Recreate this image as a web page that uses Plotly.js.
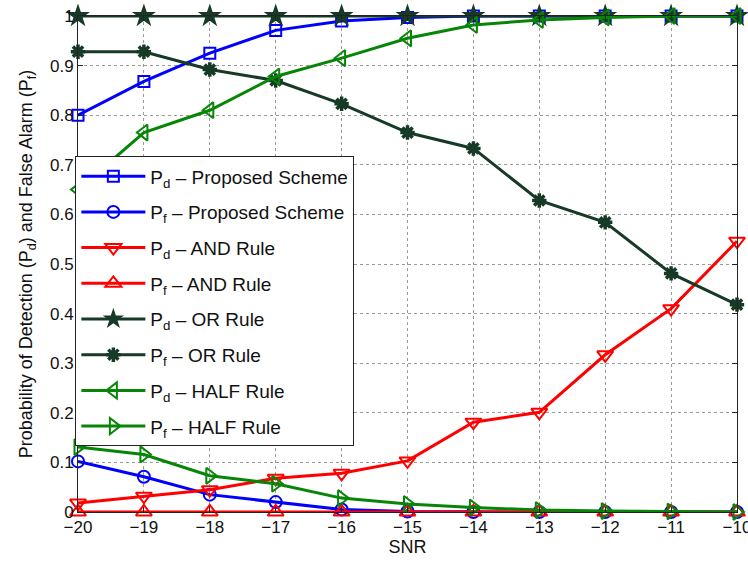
<!DOCTYPE html>
<html>
<head>
<meta charset="utf-8">
<script src="https://cdn.plot.ly/plotly-3.0.1.min.js"></script>
<style>html,body{margin:0;padding:0;background:#fff;}#chart{width:748px;height:562px;}</style>
</head>
<body>
<div id="chart"></div>
<script>
const snr = [-20, -19, -18, -17, -16, -15, -14, -13, -12, -11, -10];
const pdProposed = [0.800, 0.868, 0.925, 0.971, 0.990, 0.997, 1.000, 1.000, 1.000, 1.000, 1.000];
const pfProposed = [0.102, 0.071, 0.035, 0.020, 0.005, 0.001, 0.000, 0.000, 0.000, 0.000, 0.000];
const pdAnd = [0.018, 0.032, 0.045, 0.068, 0.078, 0.103, 0.181, 0.201, 0.317, 0.410, 0.546];
const pfAnd = [0, 0, 0, 0, 0, 0, 0, 0, 0, 0, 0];
const pdOr = [1, 1, 1, 1, 1, 1, 1, 1, 1, 1, 1];
const pfOr = [0.928, 0.928, 0.892, 0.870, 0.823, 0.765, 0.733, 0.628, 0.584, 0.481, 0.418];
const pdHalf = [0.650, 0.765, 0.810, 0.878, 0.915, 0.955, 0.982, 0.992, 0.997, 1.000, 1.000];
const pfHalf = [0.131, 0.116, 0.073, 0.057, 0.028, 0.016, 0.009, 0.004, 0.002, 0.001, 0.000];
const yTicks = [0, 0.1, 0.2, 0.3, 0.4, 0.5, 0.6, 0.7, 0.8, 0.9, 1];
const yTickText = ['0', '0.1', '0.2', '0.3', '0.4', '0.5', '0.6', '0.7', '0.8', '0.9', '1'];
const names = [
  'P<sub>d</sub> – Proposed Scheme',
  'P<sub>f</sub> – Proposed Scheme',
  'P<sub>d</sub> – AND Rule',
  'P<sub>f</sub> – AND Rule',
  'P<sub>d</sub> – OR Rule',
  'P<sub>f</sub> – OR Rule',
  'P<sub>d</sub> – HALF Rule',
  'P<sub>f</sub> – HALF Rule'
];

const BLUE = '#0000ff', RED = '#ff0000', DKG = '#163a26', GRN = '#078507';
const series = [
  [pdProposed, BLUE, 'square-open', 11, 2],
  [pfProposed, BLUE, 'circle-open', 12, 2],
  [pdAnd, RED, 'triangle-down-open', 14, 2],
  [pfAnd, RED, 'triangle-up-open', 14, 2],
  [pdOr, DKG, 'star', 18, 0],
  [pfOr, DKG, 'asterisk-open', 12, 3.5],
  [pdHalf, GRN, 'triangle-left-open', 14, 2],
  [pfHalf, GRN, 'triangle-right-open', 14, 2]
];

const traces = series.map((s, i) => ({
  x: snr, y: s[0], name: names[i], type: 'scatter', mode: 'lines+markers',
  legendgroup: 'g' + i,
  cliponaxis: false,
  line: {color: s[1], width: 3},
  marker: {symbol: s[2], size: s[3], color: s[1], line: {color: s[1], width: s[4]}}
}));

const FONT = 'Liberation Sans, Arial, sans-serif';
const axisCommon = {
  showline: true, linecolor: '#222', linewidth: 1, mirror: 'ticks',
  ticks: 'inside', ticklen: 5, tickcolor: '#222',
  showgrid: true, gridcolor: '#9a9a9a', griddash: 'dot', gridwidth: 1,
  zeroline: false, ticklabeloverflow: 'allow',
  tickfont: {family: FONT, size: 17, color: '#111'}
};

const layout = {
  width: 748, height: 562,
  margin: {l: 78, r: 11, t: 16, b: 50},
  paper_bgcolor: '#fff', plot_bgcolor: '#fff',
  font: {family: FONT, color: '#111'},
  xaxis: Object.assign({}, axisCommon, {
    range: [-20, -10], tickmode: 'array', tickvals: snr,
    title: {text: 'SNR', font: {size: 18}, standoff: 2}
  }),
  yaxis: Object.assign({}, axisCommon, {
    range: [0, 1], tickmode: 'array', tickvals: yTicks, ticktext: yTickText,
    title: {text: 'Probability of Detection (P<sub>d</sub>) and False Alarm (P<sub>f</sub>)', font: {size: 18}, standoff: 12}
  }),
  legend: {
    x: -0.004, y: 0.717, xanchor: 'left', yanchor: 'top',
    bgcolor: '#fff', bordercolor: '#222', borderwidth: 1,
    font: {family: FONT, size: 19, color: '#111'},
    tracegroupgap: 8, itemwidth: 64
  },
  showlegend: true
};

Plotly.newPlot('chart', traces, layout, {displayModeBar: false, staticPlot: true});
</script>
</body>
</html>
